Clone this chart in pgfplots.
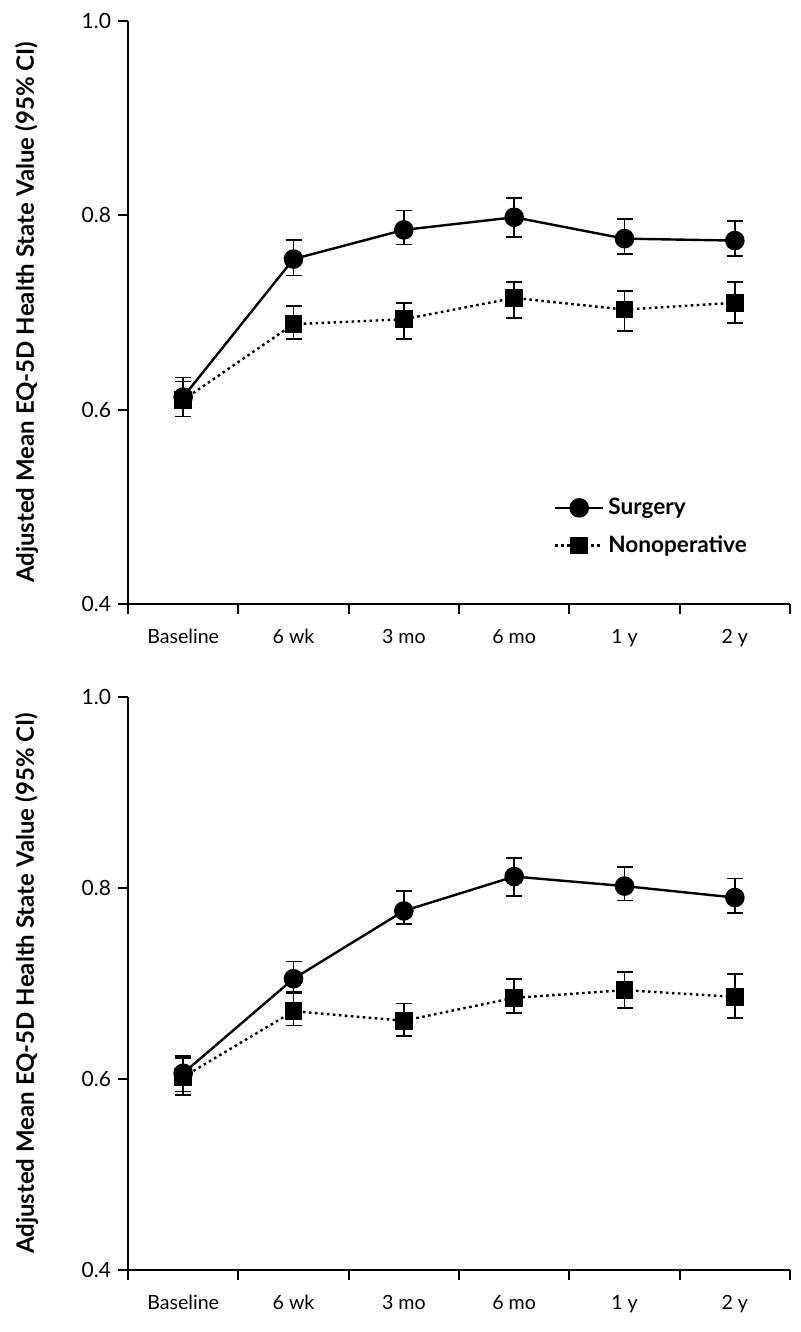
\documentclass[border=0pt]{standalone}
\usepackage{pgfplots}
\pgfplotsset{compat=1.18}
\usepackage{pgfplotstable}
\usepackage{fontspec}
\setmainfont{Lato}

% x = visit (0 = baseline ... 5 = 2 y), y = mean, ep/em = upper/lower CI distance
\pgfplotstableread{
x y ep em
0 0.613 0.020 0.020
1 0.755 0.020 0.017
2 0.785 0.020 0.015
3 0.798 0.020 0.020
4 0.776 0.020 0.016
5 0.774 0.020 0.016
}\topsurg
\pgfplotstableread{
x y ep em
0 0.610 0.019 0.017
1 0.688 0.019 0.015
2 0.693 0.017 0.020
3 0.715 0.016 0.021
4 0.703 0.019 0.022
5 0.710 0.021 0.021
}\topnonop
\pgfplotstableread{
x y ep em
0 0.606 0.018 0.019
1 0.705 0.018 0.014
2 0.776 0.021 0.014
3 0.812 0.019 0.020
4 0.802 0.020 0.015
5 0.790 0.020 0.016
}\botsurg
\pgfplotstableread{
x y ep em
0 0.602 0.020 0.019
1 0.671 0.019 0.015
2 0.661 0.018 0.016
3 0.685 0.020 0.016
4 0.693 0.019 0.019
5 0.686 0.024 0.022
}\botnonop

\pgfplotsset{
  panel/.style={
    scale only axis, width=331pt,
    xmin=-0.5, xmax=5.5, ymin=0.4, ymax=1.0,
    axis lines*=left,
    axis line style={line width=0.9pt},
    tick align=outside,
    major tick length=5pt, minor tick length=5pt,
    tick style={line width=0.9pt, black},
    xtick={0,...,5},
    xticklabels={Baseline,6 wk,3 mo,6 mo,1 y,2 y},
    major x tick style={draw=none},
    minor xtick={-0.5,0.5,...,5.5},
    ytick={0.4,0.6,0.8,1.0},
    /pgf/number format/assume math mode=true,
    xticklabel style={font=\fontsize{9.8}{11}\selectfont, text height=1.6ex, text depth=0.4ex, yshift=-3pt},
    yticklabel style={font=\fontsize{10.5}{12}\selectfont,
      /pgf/number format/.cd, fixed, fixed zerofill, precision=1},
    ylabel={Adjusted Mean EQ-5D Health State Value (95\% CI)},
    ylabel style={at={(axis description cs:-0.153,0.5)}, anchor=center,
      font=\bfseries\fontsize{12}{14}\selectfont},
    clip=false,
  },
  surg/.style={black, solid, line width=1.2pt, mark=*, mark size=4.3pt,
    error bars/.cd, y dir=both, y explicit,
    error bar style={line width=0.9pt, solid},
    error mark options={rotate=90, line width=0.9pt, mark size=4pt, solid}},
  nonop/.style={black, line width=1.2pt, dash pattern=on 1.3pt off 1.7pt,
    mark=square*, mark size=3.8pt, mark options={solid},
    error bars/.cd, y dir=both, y explicit,
    error bar style={line width=0.9pt, solid},
    error mark options={rotate=90, line width=0.9pt, mark size=4pt, solid}},
}

\begin{document}
\begin{tikzpicture}
\path[use as bounding box] (-64pt,-31pt) rectangle (336pt,635pt);

\begin{axis}[panel, height=291.5pt, at={(0,333pt)}, anchor=south west,
  legend style={at={(0.634,0.196)}, anchor=north west, draw=none, fill=none,
    font=\bfseries\fontsize{11.3}{13}\selectfont, row sep=5pt},
  legend cell align=left,
  legend image code/.code={\draw[mark repeat=2, mark phase=2, #1]
    plot coordinates {(0cm,0cm) (0.42cm,0cm) (0.84cm,0cm)};}]
\addplot[surg] table[x=x, y=y, y error plus=ep, y error minus=em] {\topsurg};
\addplot[nonop] table[x=x, y=y, y error plus=ep, y error minus=em] {\topnonop};
\legend{Surgery, Nonoperative}
\end{axis}

\begin{axis}[panel, height=286.5pt, at={(0,0)}, anchor=south west]
\addplot[surg] table[x=x, y=y, y error plus=ep, y error minus=em] {\botsurg};
\addplot[nonop] table[x=x, y=y, y error plus=ep, y error minus=em] {\botnonop};
\end{axis}
\end{tikzpicture}
\end{document}
